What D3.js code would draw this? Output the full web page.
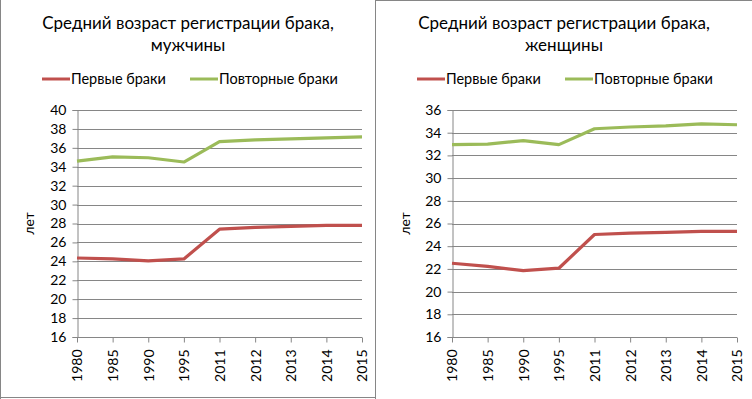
<!DOCTYPE html>
<html><head><meta charset="utf-8">
<script src="https://cdn.jsdelivr.net/npm/d3@7"></script>
<style>body{margin:0;background:#fff}svg{display:block}text{font-family:Lato,"Open Sans",sans-serif;fill:#000}</style>
</head><body>
<svg id="c" width="752" height="399"></svg>
<script>
const categories = ["1980","1985","1990","1995","2011","2012","2013","2014","2015"];
const menFirst = [24.35, 24.25, 24.05, 24.25, 27.4, 27.6, 27.7, 27.8, 27.8];
const menRepeat = [34.6, 35.05, 34.95, 34.5, 36.65, 36.85, 36.95, 37.05, 37.15];
const womenFirst = [22.5, 22.22, 21.85, 22.06, 25.03, 25.15, 25.22, 25.3, 25.3];
const womenRepeat = [32.95, 33.0, 33.3, 32.95, 34.35, 34.5, 34.6, 34.78, 34.7];
const menTicks = [16,18,20,22,24,26,28,30,32,34,36,38,40];
const womenTicks = [16,18,20,22,24,26,28,30,32,34,36];
const seriesNames = ["Первые браки", "Повторные браки"];
const titlesMen = ["Средний возраст регистрации брака,", "мужчины"];
const titlesWomen = ["Средний возраст регистрации брака,", "женщины"];
const yLabel = "лет";
const colors = ["#C0504D", "#9BBB59"];
const gridColor = "#868686";

const svg = d3.select("#c");
// panel borders
const border = svg.append("g").attr("stroke", gridColor).attr("stroke-width", 1);
border.append("line").attr("x1",0.5).attr("x2",0.5).attr("y1",0).attr("y2",399);
border.append("line").attr("x1",0).attr("x2",376).attr("y1",397.5).attr("y2",397.5);
border.append("line").attr("x1",375.5).attr("x2",375.5).attr("y1",0).attr("y2",399);
border.append("line").attr("x1",375).attr("x2",752).attr("y1",0.5).attr("y2",0.5);

function panel(ox, titles, first, repeat, ticks, x0, x1, y0, y1, legend) {
  const g = svg.append("g");
  const x = d3.scalePoint().domain(categories).range([x0, x1]);
  const y = d3.scaleLinear().domain([ticks[0], ticks[ticks.length-1]]).range([y1, y0]);
  // title
  g.append("text").attr("x", ox + 188).attr("y", 29).attr("text-anchor","middle")
    .style("font-size","17px").text(titles[0]);
  g.append("text").attr("x", ox + 188).attr("y", 51).attr("text-anchor","middle")
    .style("font-size","17px").text(titles[1]);
  // legend
  const lg = g.append("g");
  legend.forEach((L, i) => {
    lg.append("line").attr("x1", L).attr("x2", L+28).attr("y1", 79).attr("y2", 79)
      .attr("stroke", colors[i]).attr("stroke-width", 3);
    lg.append("text").attr("x", L+29).attr("y", 84).style("font-size","14.5px").text(seriesNames[i]);
  });
  // grid
  g.append("g").selectAll("line").data(ticks.slice(1)).join("line")
    .attr("x1", x0).attr("x2", x1).attr("y1", d => Math.round(y(d))+0.5).attr("y2", d => Math.round(y(d))+0.5)
    .attr("stroke", gridColor);
  // y axis
  const ya = g.append("g").attr("transform", `translate(${x0+0.5},0)`)
    .call(d3.axisLeft(y).tickValues(ticks).tickSize(5).tickPadding(6).tickFormat(d3.format("d")));
  ya.select(".domain").attr("stroke", gridColor);
  ya.selectAll(".tick line").attr("stroke", gridColor);
  ya.selectAll("text").style("font-size","14px").attr("fill","#000");
  // x axis
  const xa = g.append("g").attr("transform", `translate(0,${Math.round(y1)+0.5})`)
    .call(d3.axisBottom(x).tickSize(5).tickPadding(8));
  xa.select(".domain").attr("stroke", gridColor).attr("d", `M${x0},0H${x1}`);
  xa.selectAll(".tick line").attr("stroke", gridColor);
  xa.selectAll("text").style("font-size","14px").attr("fill","#000")
    .attr("transform","rotate(-90)").attr("text-anchor","end").attr("dy","0.35em")
    .attr("x", -12).attr("y", 0);
  // y label
  g.append("text").attr("transform", `translate(${ox+34},${(y0+y1)/2}) rotate(-90)`)
    .attr("text-anchor","middle").style("font-size","14px").text(yLabel);
  // lines
  const line = d3.line().x((d,i) => x(categories[i])).y(d => y(d));
  [first, repeat].forEach((s, i) => {
    g.append("path").datum(s).attr("d", line).attr("fill","none")
      .attr("stroke", colors[i]).attr("stroke-width", 3.2).attr("stroke-linejoin","round");
  });
}
panel(0, titlesMen, menFirst, menRepeat, menTicks, 77, 362, 110, 337, [42, 190]);
panel(376, titlesWomen, womenFirst, womenRepeat, womenTicks, 452, 737, 110, 337, [417, 565]);
</script>
</body></html>
